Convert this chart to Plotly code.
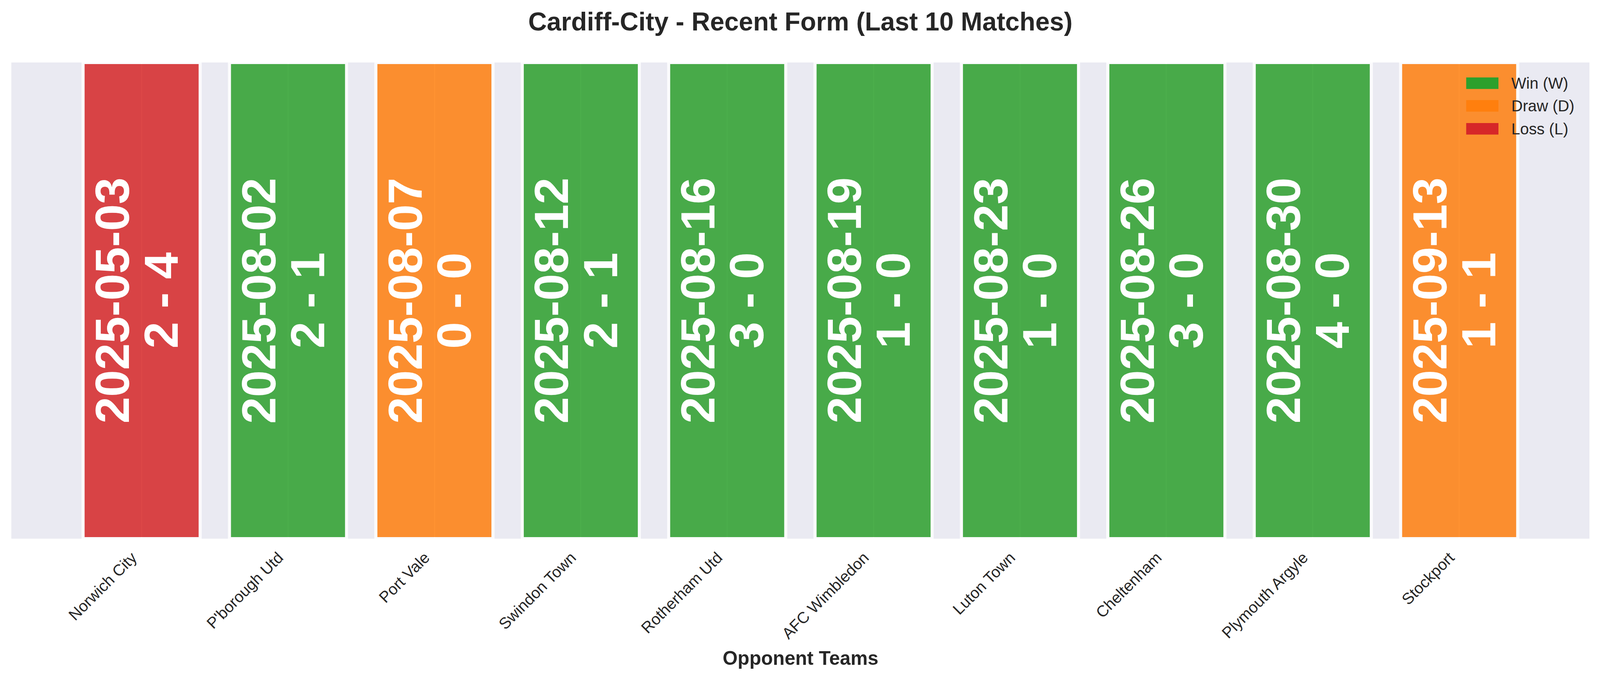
import plotly.graph_objects as go

# match data (oldest first)
teams = ["Norwich City", "P'borough Utd", "Port Vale", "Swindon Town", "Rotherham Utd",
         "AFC Wimbledon", "Luton Town", "Cheltenham", "Plymouth Argyle", "Stockport"]
dates = ["2025-05-03", "2025-08-02", "2025-08-07", "2025-08-12", "2025-08-16",
         "2025-08-19", "2025-08-23", "2025-08-26", "2025-08-30", "2025-09-13"]
scores = ["2 - 4", "2 - 1", "0 - 0", "2 - 1", "3 - 0",
          "1 - 0", "1 - 0", "3 - 0", "4 - 0", "1 - 1"]
results = ["L", "W", "D", "W", "W", "W", "W", "W", "W", "D"]
heights = [1, 1, 1, 1, 1, 1, 1, 1, 1, 1]

result_colors = {"W": "#2ca02c", "D": "#ff7f0e", "L": "#d62728"}
legend_labels = [("W", "Win (W)"), ("D", "Draw (D)"), ("L", "Loss (L)")]

# layout measured in screenshot pixels; the visible page is a bit smaller in css px
W, H = 4170, 1769
SX, SY = 1.0175, 1.019
S = 1.015


def px(v):
    return v / S


ML, MR, MT, MB = 30, 30, 163, 364
PW, PH = W - ML - MR, H - MT - MB
TXT = "#262626"
FONT = "Liberation Sans, Arial, sans-serif"

fig = go.Figure()

fig.add_trace(go.Bar(
    x=teams, y=heights, width=0.8,
    marker=dict(color=[result_colors[r] for r in results],
                line=dict(color="white", width=px(8))),
    opacity=0.85, showlegend=False, hoverinfo="skip",
))

# rotated labels inside bars: date and score as two columns
for team, d, s in zip(teams, dates, scores):
    fig.add_annotation(x=team, y=0.5, text=d, textangle=-90, showarrow=False,
                       xanchor="center", yanchor="middle", xshift=px(-76),
                       font=dict(family=FONT, size=px(125), color="white", weight="bold"))
    fig.add_annotation(x=team, y=0.5, text=s, textangle=-90, showarrow=False,
                       xanchor="center", yanchor="middle", xshift=px(51),
                       font=dict(family=FONT, size=px(125), color="white", weight="bold"))

# legend drawn by hand so the patches look like matplotlib's
rows_px = [217, 276, 336]
for (key, label), ypx in zip(legend_labels, rows_px):
    yc = 1 - (ypx - MT) / PH
    hh = 15 / PH
    fig.add_shape(type="rect", xref="paper", yref="paper",
                  x0=(3819 - ML) / PW, x1=(3903 - ML) / PW, y0=yc - hh, y1=yc + hh,
                  fillcolor=result_colors[key], line=dict(width=0))
    fig.add_annotation(xref="paper", yref="paper", x=(3934 - ML) / PW, y=yc,
                       text=label, showarrow=False, xanchor="left", yanchor="middle",
                       font=dict(family=FONT, size=px(41), color=TXT))

# x axis title
fig.add_annotation(xref="paper", yref="paper", x=0.5, y=-(1716 - (MT + PH)) / PH,
                   text="Opponent Teams", showarrow=False, xanchor="center", yanchor="middle",
                   font=dict(family=FONT, size=px(50), color=TXT, weight="bold"))

fig.update_layout(
    width=round(W / SX), height=round(H / SY), autosize=False,
    margin=dict(l=ML / SX, r=MR / SX, t=MT / SY, b=MB / SY, pad=0),
    paper_bgcolor="white", plot_bgcolor="#EAEAF2",
    title=dict(text="Cardiff-City - Recent Form (Last 10 Matches)",
               x=0.5, xanchor="center", y=1 - 56 / H, yanchor="middle", yref="container",
               font=dict(family=FONT, size=px(67), color=TXT, weight="bold")),
    xaxis=dict(range=[-0.89, 9.89], showgrid=True, gridcolor="white", gridwidth=px(3),
               zeroline=False, showline=False, ticks="", tickangle=-45,
               tickfont=dict(family=FONT, size=px(41), color=TXT),
               ticklabelstandoff=round(px(16)), ticklabelshift=round(px(-24))),
    yaxis=dict(range=[0, 1], showgrid=False, zeroline=False, showline=False,
               showticklabels=False, ticks=""),
    bargap=0.2,
    showlegend=False,
)

fig.write_html(
    "out.html",
    config={"displayModeBar": False},
    post_script="document.body.style.margin='0';document.body.style.overflow='hidden';",
)
